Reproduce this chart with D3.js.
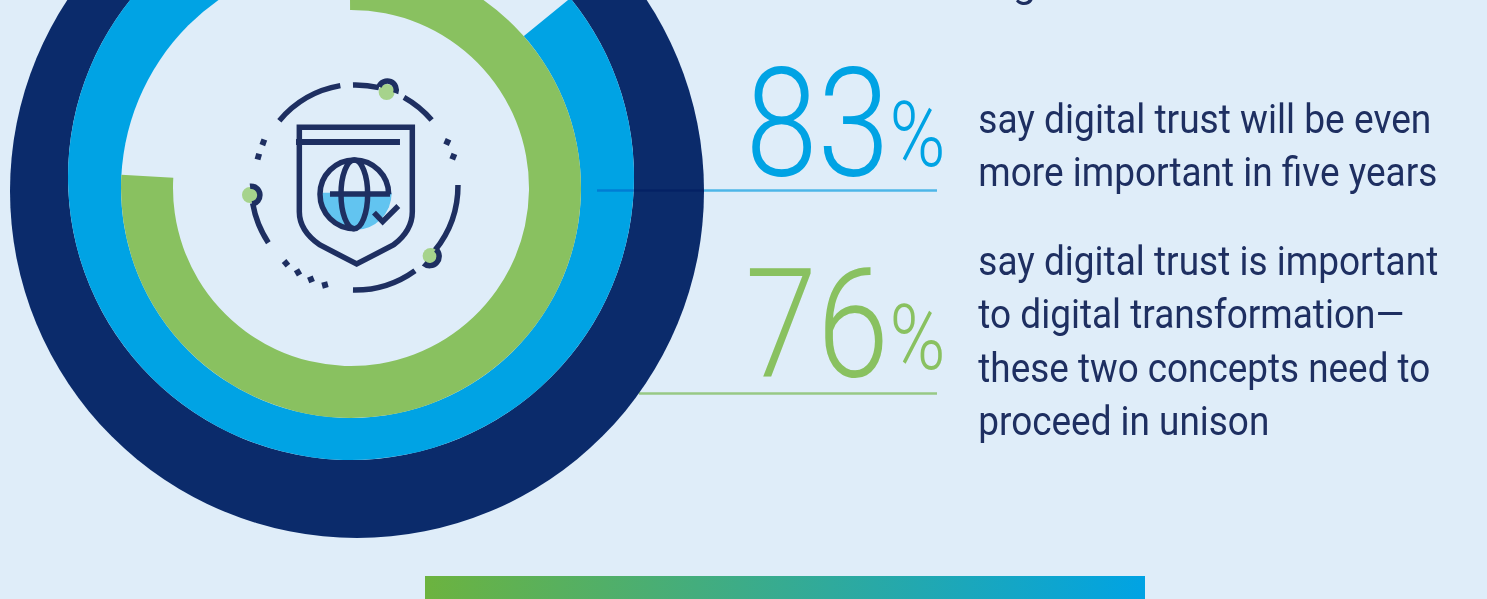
<!DOCTYPE html>
<html>
<head>
<meta charset="utf-8">
<script src="https://cdn.jsdelivr.net/npm/d3@7/dist/d3.min.js"></script>
<style>
html,body{margin:0;padding:0;background:#dfedf9;overflow:hidden}
svg{display:block}
text{font-family:Roboto,sans-serif}
</style>
</head>
<body>
<svg id="chart" width="1487" height="599"></svg>
<script>
// Survey results
const blueShare = 83;
const greenShare = 76;
const statValues = [83, 76];
const statPercentWidths = [56, 56];
const statNumberWidths = [144, 144];
const statColors = ["#00a3e4", "#89c160"];
const ruleColors = ["#58c4ee", "#aed888"];
const statNotes = [
  [["say digital trust will be even", 453], ["more important in five years", 459]],
  [["say digital trust is important", 460], ["to digital transformation—", 426], ["these two concepts need to", 452], ["proceed in unison", 291]]
];

const bg = "#dfedf9", navy = "#0b2b6b", ink = "#1e2f61";
const tau = Math.PI * 2;
const svg = d3.select("#chart");
const angle = d3.scaleLinear().domain([0, 100]).range([0, tau]);

// Rings: each percentage drives the sweep of its arc
const blueStart = 50.8 * Math.PI / 180;
const greenStart = -0.3 * Math.PI / 180;
svg.append("circle").attr("cx", 357).attr("cy", 191).attr("r", 347).attr("fill", navy);
svg.append("circle").attr("cx", 351).attr("cy", 177).attr("r", 283).attr("fill", bg);
svg.append("path")
  .attr("transform", "translate(351,177)")
  .attr("fill", statColors[0])
  .attr("d", d3.arc()({innerRadius: 0, outerRadius: 283, startAngle: blueStart, endAngle: blueStart + angle(blueShare)}));
svg.append("circle").attr("cx", 351).attr("cy", 188).attr("r", 230).attr("fill", bg);
svg.append("path")
  .attr("transform", "translate(351,188)")
  .attr("fill", statColors[1])
  .attr("d", d3.arc()({innerRadius: 178, outerRadius: 230, startAngle: greenStart, endAngle: greenStart + angle(greenShare)}));

// Leader rules under the two figures
const ruleLayout = [{x1: 597, y: 190.5}, {x1: 639, y: 393.5}];
svg.selectAll("line.rule").data(ruleLayout).join("line")
  .attr("class", "rule")
  .attr("x1", d => d.x1).attr("x2", 937)
  .attr("y1", d => d.y).attr("y2", d => d.y)
  .attr("stroke", (d, i) => ruleColors[i]).attr("stroke-width", 2.4)
  .style("mix-blend-mode", "multiply");

// Big figures
const figureBase = [176, 377], figureLeft = [745.5, 745];
svg.selectAll("text.figure").data(statValues).join("text")
  .attr("class", "figure")
  .attr("x", (d, i) => figureLeft[i]).attr("y", (d, i) => figureBase[i])
  .attr("font-size", 152).attr("font-weight", 300)
  .attr("fill", (d, i) => statColors[i])
  .attr("textLength", (d, i) => statNumberWidths[i]).attr("lengthAdjust", "spacingAndGlyphs")
  .text(d => d);
const percentBase = [166, 369];
svg.selectAll("text.pct").data(statValues).join("text")
  .attr("class", "pct")
  .attr("x", 889.5).attr("y", (d, i) => percentBase[i])
  .attr("font-size", 90).attr("font-weight", 300)
  .attr("fill", (d, i) => statColors[i])
  .attr("textLength", (d, i) => statPercentWidths[i]).attr("lengthAdjust", "spacingAndGlyphs")
  .text("%");

// Descriptions
const noteBase = [133, 275], lineStep = 53.4;
statNotes.forEach((lines, k) => {
  svg.selectAll("text.note" + k).data(lines).join("text")
    .attr("class", "note" + k)
    .attr("x", 978.3).attr("y", (d, i) => noteBase[k] + i * lineStep)
    .attr("font-size", 41).attr("fill", ink)
    .attr("textLength", d => d[1]).attr("lengthAdjust", "spacingAndGlyphs")
    .text(d => d[0]);
});
// Tail of the line running off the top edge
svg.append("text").attr("x", 1013).attr("y", -3).attr("font-size", 41).attr("fill", ink).text("g");

// Gradient banner at the foot
const grad = svg.append("defs").append("linearGradient").attr("id", "banner");
grad.append("stop").attr("offset", "0%").attr("stop-color", "#6cb33f");
grad.append("stop").attr("offset", "100%").attr("stop-color", "#00a3e4");
svg.append("rect").attr("x", 425).attr("y", 576).attr("width", 720).attr("height", 23).attr("fill", "url(#banner)");

// Shield and globe emblem, drawn on a 3x grid
const icon = svg.append("g").attr("transform", "translate(230,70) scale(0.3333)")
  .attr("fill", "none").attr("stroke", ink).attr("stroke-width", 16.5);
const iconClip = svg.select("defs").append("clipPath").attr("id", "lowerGlobe");
iconClip.append("rect").attr("x", 250).attr("y", 368).attr("width", 260).attr("height", 130);
icon.append("circle").attr("cx", 375).attr("cy", 370).attr("r", 110)
  .attr("fill", "#62c4f0").attr("stroke", "none").attr("clip-path", "url(#lowerGlobe)");
const ringPaths = [
  "M148,152 A309,309 0 0 1 331,47",
  "M369,45 A309,309 0 0 1 447,53",
  "M522,82 A309,309 0 0 1 605,150",
  "M684,345 A309,309 0 0 1 615,541",
  "M555,602 A309,309 0 0 1 369,660",
  "M115,518 A309,309 0 0 1 68,400"
];
const shieldPaths = [
  "M208,172 H547 V425 Q547,482 490,525 L380,582 L270,525 Q208,482 208,425 Z",
  "M432,428 L458,455 L505,408",
  "M300,372 H480"
];
icon.selectAll("path.ring").data(ringPaths).join("path").attr("class", "ring").attr("d", d => d);
icon.selectAll("path.shield").data(shieldPaths).join("path").attr("class", "shield").attr("d", d => d);
icon.append("path").attr("d", "M198,216 H510").attr("stroke-width", 18);
// Globe outline stays open in its lower right quarter, where the tick sits
icon.append("path").attr("d", "M476,373 A103,103 0 1 0 373,476");
icon.append("ellipse").attr("cx", 373).attr("cy", 373).attr("rx", 40).attr("ry", 103);

const nodes = [
  {dot: [470, 66], arc: "M447,50 A26,26 0 0 1 497,70"},
  {dot: [602, 558], arc: "M618,538 A27,27 0 0 1 581,580"},
  {dot: [60, 375], arc: "M60,349 A26,26 0 0 1 66,402"}
];
icon.selectAll("circle.dot").data(nodes).join("circle").attr("class", "dot")
  .attr("cx", d => d.dot[0]).attr("cy", d => d.dot[1]).attr("r", 24)
  .attr("fill", "#a6d38c").attr("stroke", "none");
icon.selectAll("path.node").data(nodes).join("path").attr("class", "node").attr("d", d => d.arc);

const studs = [[652,216,24],[670,260,22],[100,217,20],[85,260,16],[168,580,-40],[204,607,-30],[243,628,-22],[285,645,-15]];
icon.selectAll("rect.stud").data(studs).join("rect").attr("class", "stud")
  .attr("x", -9).attr("y", -9).attr("width", 18).attr("height", 18)
  .attr("transform", d => `translate(${d[0]},${d[1]}) rotate(${d[2]})`)
  .attr("fill", ink).attr("stroke", "none");
</script>
</body>
</html>
